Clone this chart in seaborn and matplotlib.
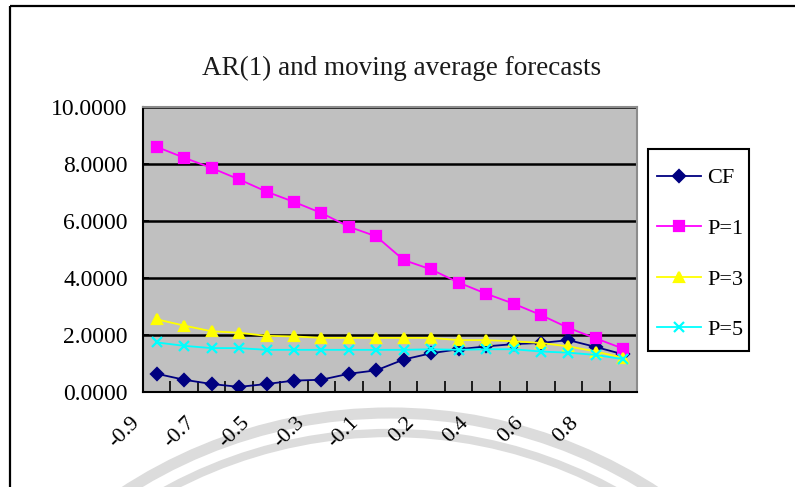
import numpy as np
import pandas as pd
import seaborn as sns
import matplotlib.pyplot as plt
import matplotlib.transforms as mtransforms
from matplotlib.patches import Arc, Rectangle

plt.rcParams['font.family'] = ['Liberation Serif', 'DejaVu Serif']

# AR(1) coefficient categories (no 0 in the table)
phi = ["-0.9", "-0.8", "-0.7", "-0.6", "-0.5", "-0.4", "-0.3", "-0.2", "-0.1",
       "0.1", "0.2", "0.3", "0.4", "0.5", "0.6", "0.7", "0.8", "0.9"]

cf = [0.64, 0.43, 0.28, 0.18, 0.28, 0.40, 0.43, 0.64, 0.76,
      1.14, 1.36, 1.50, 1.60, 1.68, 1.72, 1.82, 1.58, 1.32]
p1 = [8.60, 8.22, 7.86, 7.46, 7.03, 6.67, 6.28, 5.80, 5.46,
      4.63, 4.30, 3.84, 3.45, 3.10, 2.70, 2.25, 1.88, 1.52]
p3 = [2.55, 2.33, 2.13, 2.08, 1.97, 1.95, 1.90, 1.90, 1.90,
      1.90, 1.90, 1.82, 1.82, 1.78, 1.72, 1.60, 1.42, 1.20]
p5 = [1.74, 1.62, 1.54, 1.54, 1.48, 1.48, 1.48, 1.48, 1.48,
      1.48, 1.50, 1.48, 1.50, 1.50, 1.42, 1.38, 1.30, 1.15]

series_names = ["CF", "P=1", "P=3", "P=5"]
colors = ["#000080", "#FF00FF", "#FFFF00", "#00FFFF"]
markers = ["D", "s", "^", "x"]
msizes = [6, 7, 7.5, 7.5]

frames = []
for name, vals in zip(series_names, [cf, p1, p3, p5]):
    frames.append(pd.DataFrame({"phi": phi, "value": vals, "series": name}))
df = pd.concat(frames, ignore_index=True)

fig = plt.figure(figsize=(7.95, 4.87), dpi=100)

# background layer in pixel units: outer frame, legend box, faint watermark arcs
bg = fig.add_axes([0, 0, 1, 1], zorder=0)
bg.set_xlim(0, 795)
bg.set_ylim(487, 0)
bg.axis("off")
bg.add_patch(Rectangle((9.5, 6), 900, 600, fill=False, ec="black", lw=1.6))
bg.add_patch(Rectangle((648, 149), 101, 202, fill=False, ec="black", lw=1.5))
bg.add_patch(Arc((390, 900), 974, 974, theta1=180, theta2=360, color="#DCDCDC", lw=8))
bg.add_patch(Arc((390, 900), 934, 934, theta1=180, theta2=360, color="#DCDCDC", lw=6))

ax = fig.add_axes([143 / 795, 1 - 392 / 487, 494 / 795, 285 / 487], zorder=1)
ax.set_facecolor("#C0C0C0")

for name, col, mk, ms in zip(series_names, colors, markers, msizes):
    sub = df[df.series == name]
    sns.lineplot(data=sub, x="phi", y="value", color=col, marker=mk, sort=False,
                 ax=ax, lw=1.3, markersize=ms, markeredgewidth=1.6,
                 markeredgecolor=col, label=name)

ax.set_xlim(-0.5, len(phi) - 0.5)
ax.set_ylim(0, 10)
ax.set_xlabel("")
ax.set_ylabel("")

ax.set_yticks(np.arange(0, 10.1, 2))
ax.set_yticklabels([f"{v:.4f}" for v in np.arange(0, 10.1, 2)], fontsize=17)
ax.yaxis.grid(True, color="black", lw=1.8)
ax.set_axisbelow(True)
ax.tick_params(axis="y", direction="in", length=4, width=1.2, pad=11, colors="black")

ax.set_xticks(range(0, len(phi), 2))
ax.set_xticklabels(phi[::2], rotation=45, ha="right", va="center",
                   rotation_mode="anchor", fontsize=16)
ax.set_xticks(np.arange(0.5, len(phi) - 1, 1), minor=True)
ax.tick_params(axis="x", which="major", length=0, pad=20)
ax.tick_params(axis="x", which="minor", direction="in", length=8, width=1.2, color="black")
shift = mtransforms.ScaledTranslation(-0.20, 0, fig.dpi_scale_trans)
for lab in ax.get_xticklabels():
    lab.set_transform(lab.get_transform() + shift)

for side in ["left", "bottom"]:
    ax.spines[side].set_color("black")
    ax.spines[side].set_linewidth(1.5)
for side in ["top", "right"]:
    ax.spines[side].set_color("#8C8C8C")
    ax.spines[side].set_linewidth(1.5)

fig.text(402 / 795, 1 - 75 / 487, "AR(1) and moving average forecasts",
         ha="center", va="baseline", fontsize=19.5, color="#1A1A1A")

ax.legend(loc="upper left", bbox_to_anchor=(648 / 795, 1 - 159 / 487),
          bbox_transform=fig.transFigure, fontsize=16, frameon=False,
          borderaxespad=0, handlelength=2.0, handletextpad=0.25,
          labelspacing=1.35, borderpad=0.4)

fig.savefig("out.png", dpi=100, facecolor="white")
